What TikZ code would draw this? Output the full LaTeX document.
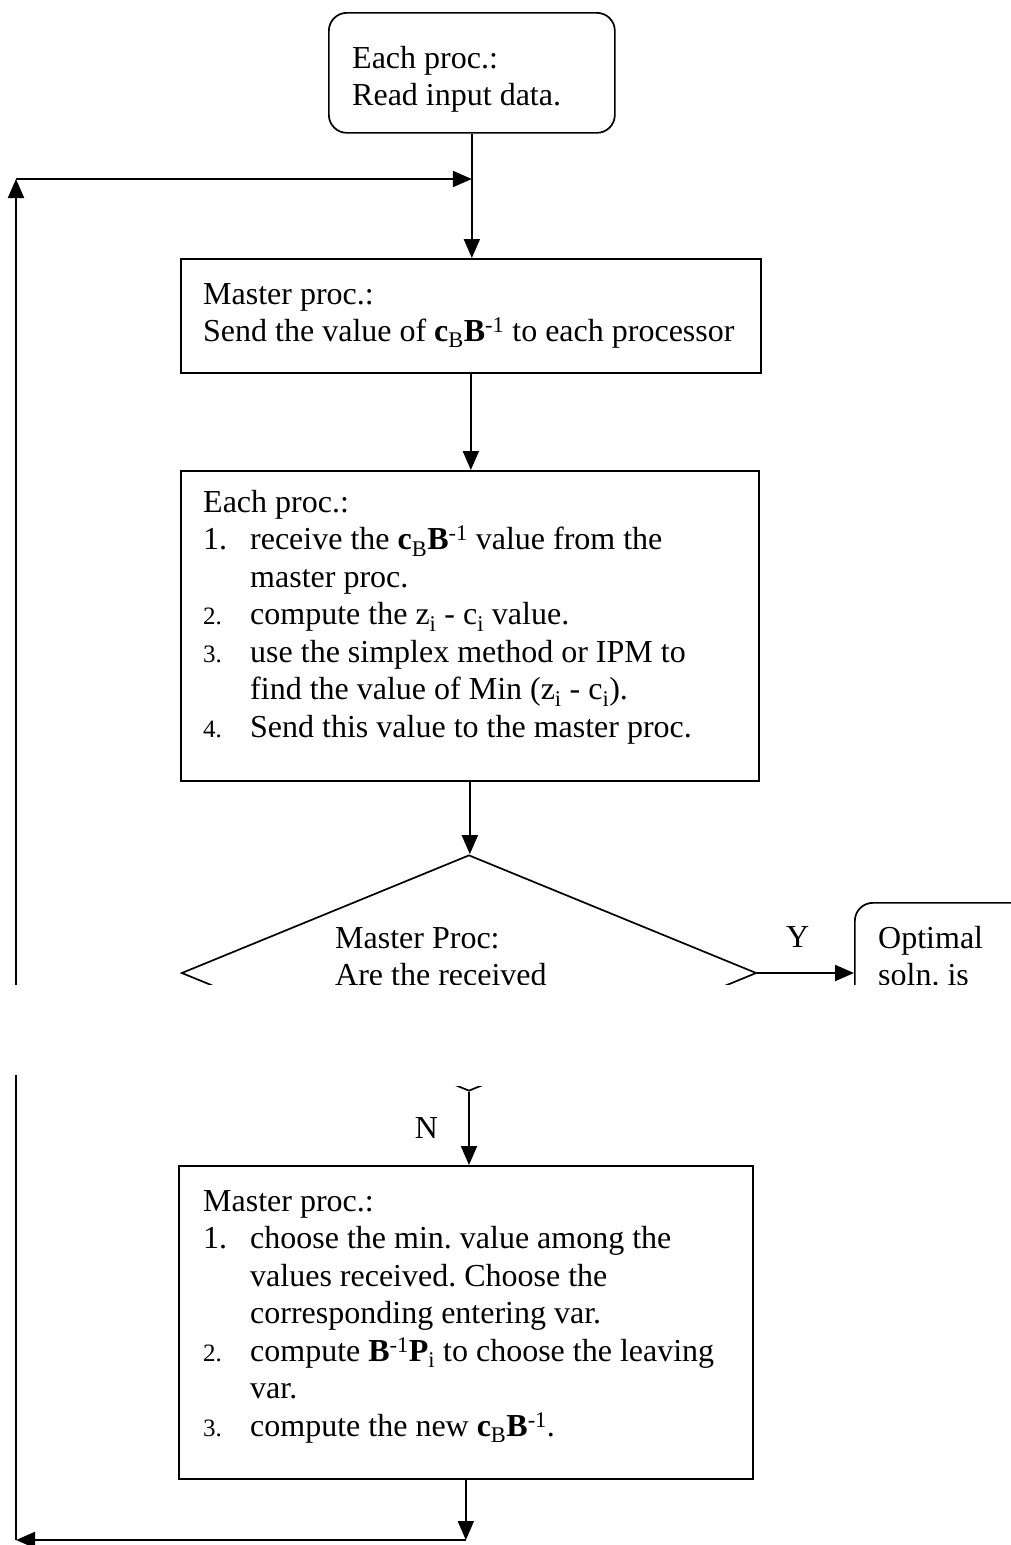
\documentclass[tikz,border=0pt]{standalone}
\usepackage{fontspec}
\setmainfont{Liberation Serif}
\usetikzlibrary{shapes.geometric,arrows.meta,positioning}
\frenchspacing

\newcommand{\cBinv}{\textbf{c}\textsubscript{B}\textbf{B}\textsuperscript{-1}}
\newcommand{\numA}[1]{\makebox[47pt][l]{#1}}
\newcommand{\numB}[1]{\makebox[47pt][l]{\fontsize{25}{37.5}\selectfont #1}}
\newcommand{\contd}{\hspace*{47pt}}

\tikzset{
  box/.style={draw, line width=1.7pt, anchor=north west, inner sep=0pt},
  roundbox/.style={box, rounded corners=18pt},
  txt/.style={anchor=north west, inner sep=0pt, align=left, font=\fontsize{32}{37.5}\selectfont},
  arr/.style={-{Triangle[length=19pt,width=16pt]}, line width=2pt},
}

\begin{document}
\begin{tikzpicture}[x=1pt,y=-1pt]
\useasboundingbox (0,0) rectangle (1011,1545);
\clip (0,0) rectangle (1011,1545);

% the boxes, texts set inside from their top left corners
\node[roundbox, minimum width=286, minimum height=120] (read) at (328,12) {};
\node[txt] (readtxt) at ([shift={(24,34)}]read.north west) {Each proc.:\\Read input data.};

\node[box, minimum width=580, minimum height=114] (send) at (180,258) {};
\node[txt] (sendtxt) at ([shift={(23,25)}]send.north west) {Master proc.:\\Send the value of \cBinv{} to each processor};

\node[box, minimum width=578, minimum height=310] (local) at (180,470) {};
\node[txt] (localtxt) at ([shift={(23,20)}]local.north west) {Each proc.:\\
\numA{1.}receive the \cBinv{} value from the\\
\contd master proc.\\
\numB{2.}compute the z\textsubscript{i} - c\textsubscript{i} value.\\
\numB{3.}use the simplex method or IPM to\\
\contd find the value of Min (z\textsubscript{i} - c\textsubscript{i}).\\
\numB{4.}Send this value to the master proc.};

\node[diamond, draw, line width=1.7pt, inner sep=0pt, minimum width=575, minimum height=236] (check) at (469,973) {};
\node[txt] (checktxt) at (335,927) {Master Proc:\\Are the received};

\node[roundbox, minimum width=250, minimum height=150] (optimal) at (854,902) {};
\node[txt] (optimaltxt) at ([shift={(24,24)}]optimal.north west) {Optimal\\soln. is};

\node[box, minimum width=574, minimum height=313] (update) at (178,1165) {};
\node[txt] (updatetxt) at ([shift={(25,25)}]update.north west) {Master proc.:\\
\numA{1.}choose the min. value among the\\
\contd values received. Choose the\\
\contd corresponding entering var.\\
\numB{2.}compute \textbf{B}\textsuperscript{-1}\textbf{P}\textsubscript{i} to choose the leaving\\
\contd var.\\
\numB{3.}compute the new \cBinv.};

% corners of the loop back
\coordinate (topleft) at (16,179);
\coordinate (topmid) at (topleft -| read.south);
\coordinate (botleft) at (16,1540);
\coordinate (botmid) at (botleft -| update.south);

\draw[arr] (read.south) -- (read.south |- send.north);
\draw[arr] (send.south) -- (send.south |- local.north);
\draw[arr] (local.south) -- (local.south |- check.north);
\draw[arr] (check.east) -- (check.east -| optimal.west)
  node[midway, above=25pt, xshift=-8pt, inner sep=0pt, font=\fontsize{32}{37.5}\selectfont] (ylab) {Y};
\draw[arr] (check.south) -- (check.south |- update.north)
  node[midway, left=30pt, inner sep=0pt, font=\fontsize{32}{37.5}\selectfont] (nlab) {N};
\draw[arr] (update.south) -- (botmid);
\draw[arr] (botmid) -- (botleft);
\draw[arr] (botleft) -- (topleft);
\draw[arr] (topleft) -- (topmid);

% page break through the picture
\fill[white] (0,985) rectangle (1011,1075);
\fill[white] (100,1070) rectangle (1011,1086);
\end{tikzpicture}
\end{document}
